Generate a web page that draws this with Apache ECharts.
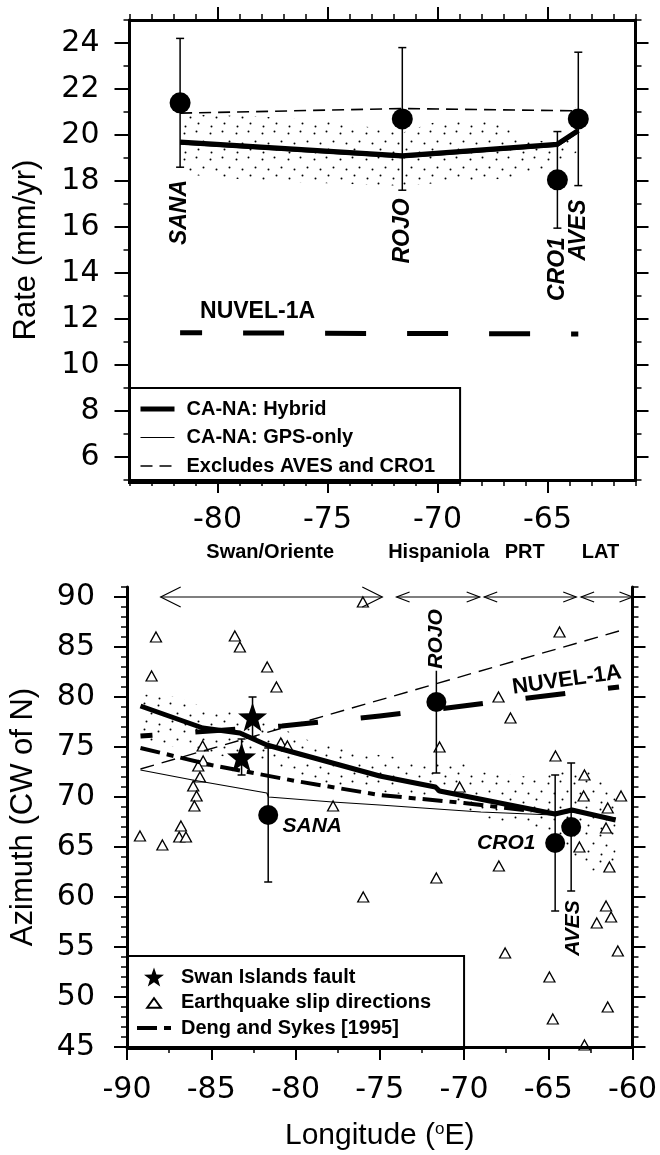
<!DOCTYPE html>
<html><head><meta charset="utf-8">
<script src="https://cdn.jsdelivr.net/npm/echarts@6/dist/echarts.min.js"></script>
<style>html,body{margin:0;padding:0;background:#fff}#c{width:660px;height:1155px}</style>
</head><body><div id="c"></div>
<script>
// ================= DATA =================
// ---- Top panel: rate (mm/yr) vs longitude ----
const rateStations = ['SANA','ROJO','CRO1','AVES'];
const rateLon = [-81.7,-71.6,-64.55,-63.6];
const rateVal = [21.4,20.7,18.05,20.7];
const rateErr = [2.8,3.1,2.1,2.9];
const hybridRateLon = [-81.7,-71.6,-64.55,-63.6];
const hybridRate = [19.7,19.1,19.6,20.2];
const gpsRateLon = [-81.7,-71.6,-64.55,-63.6];
const gpsRate = [19.6,19.0,19.5,20.1];
const exclRateLon = [-81.7,-71.6,-63.6];
const exclRate = [20.95,21.15,21.05];
const nuvelRateLon = [-81.7,-71.6,-63.6];
const nuvelRate = [11.4,11.37,11.35];
const bandRateLon  = [-81.7,-78,-75,-72,-71.6,-70,-67,-66.2,-64.55,-63.6];
const bandRateLow  = [18.3,18.0,17.9,17.8,17.8,17.9,18.1,18.2,18.6,19.3];
const bandRateHigh = [20.9,20.8,20.6,20.2,20.1,20.6,20.7,19.8,19.7,21.4];
const rateLabelLon = [-81.7,-71.6,-64.55,-63.6];
const rateLabelVal = [16.63,15.83,14.17,15.87];
const nuvelRateLabel = {text:'NUVEL-1A', lon:-78.18, val:12.32};

// ---- Bottom panel: azimuth (CW of N) vs longitude ----
const azStations = ['SANA','ROJO','CRO1','AVES'];
const azLon = [-81.62,-71.64,-64.59,-63.64];
const azVal = [68.2,79.5,65.4,67.0];
const azErr = [6.7,7.1,6.8,6.4];
const swanLon = [-82.55,-83.2];
const swanAz = [78.0,74.0];
const swanErr = [2.0,1.8];
const quakeLon = [-88.28,-88.54,-83.6,-83.3,-81.68,-81.13,-80.87,-80.48,-85.51,-85.48,-85.77,-85.67,-86.07,-85.87,-76.0,
  -86.0,-86.8,-86.9,-86.5,-89.23,-87.9,-77.77,-75.98,
  -64.33,-67.95,-67.24,-71.45,-64.57,-70.26,-62.85,-60.68,-62.9,
  -61.47,-61.57,-63.15,-61.37,-67.93,-71.64,-61.57,-61.27,-62.12,-60.87,-67.56,-64.93,-61.47,-64.73,-62.85];
const quakeAz = [86.0,82.1,86.1,85.0,83.0,81.0,75.4,75.1,75.1,73.6,73.1,72.0,71.1,70.1,89.5,
  69.1,67.1,66.0,66.0,66.1,65.2,69.1,60.0,
  86.5,80.0,77.9,75.0,74.1,71.0,72.2,70.1,70.1,
  68.9,66.9,65.0,63.0,63.1,61.9,59.1,58.0,57.4,54.6,54.4,52.0,49.0,47.8,45.2];
const hybridAzLon = [-89.2,-85.5,-83.3,-81.7,-75.0,-71.7,-71.45,-64.6,-63.6,-61.0];
const hybridAz    = [79.1,76.9,76.4,75.2,72.1,71.0,70.6,68.3,68.7,67.7];
const gpsAzLon = [-89.2,-86.1,-81.7,-81.6,-77.8,-75.0,-71.6,-69.0,-64.7,-63.6,-61.0];
const gpsAz    = [72.7,71.7,70.4,70.0,69.5,69.2,68.8,68.5,68.2,68.5,67.9];
const dengAzLon = [-89.2,-85.0,-80.0,-75.0,-70.0,-66.0];
const dengAz    = [74.9,73.2,71.6,70.2,69.4,68.6];
const exclAzLon = [-89.2,-60.8];
const exclAz    = [72.8,86.6];
const nuvelAzLon = [-89.2,-80.8,-75.0,-71.0,-66.2,-60.8];
const nuvelAz    = [76.1,77.1,78.1,78.9,79.9,81.0];
const bandAzLon  = [-89.2,-87,-85.5,-83,-81.7,-79,-75.5,-73,-70.5,-69,-66,-64.5,-62.5,-61];
const bandAzHigh = [80.3,80.0,79.0,78.5,77.5,75.5,74.3,73.8,73.7,72.5,72.0,72.5,72.5,71.0];
const bandAzLow  = [75.5,75.0,74.5,73.6,73.2,71.5,70.6,70.2,69.5,68.0,67.0,66.0,62.5,63.5];
const regionNames = ['Swan/Oriente','Hispaniola','PRT','LAT'];
const regionFrom = [-88.0,-74.0,-68.8,-63.05];
const regionTo   = [-74.85,-69.07,-63.34,-60.0];
const regionArrowAz = 90;
const regionLabelLon = [-81.5,-71.5,-66.4,-61.9];
const regionLabelAz = 94.5;
const azLabels = [
  {text:'SANA', lon:-80.77, val:67.1, rot:0, align:'left'},
  {text:'CRO1', lon:-65.76, val:65.4, rot:0, align:'right'},
  {text:'ROJO', lon:-71.64, val:85.8, rot:90, align:'center'},
  {text:'AVES', lon:-63.54, val:56.9, rot:90, align:'center'},
  {text:'NUVEL-1A', lon:-63.89, val:81.7, rot:8, align:'center'}
];
// ticks
const rateXTicks = [-80,-75,-70,-65];
const rateYTicks = [6,8,10,12,14,16,18,20,22,24];
const azYTicks = [45,50,55,60,65,70,75,80,85,90];

// ================= HELPERS =================
const zip = (a,b) => a.map((v,i)=>[v,b[i]]);
const FONT = 'Liberation Sans';
const TFONT = 'DejaVu Sans';
function stippleTile(){
  const c=document.createElement('canvas'); c.width=26; c.height=26;
  const g=c.getContext('2d'); g.fillStyle='#000';
  [[2,3],[14,1],[21,11],[8,13],[16,19],[3,22]].forEach(p=>{g.beginPath();g.arc(p[0]+.5,p[1]+.5,1.0,0,Math.PI*2);g.fill();});
  return c;
}
const stipple = {image: stippleTile(), repeat:'repeat'};
function bandSeries(xi, yi, lon, lo, hi){
  return {type:'custom', xAxisIndex:xi, yAxisIndex:yi, z:1, silent:true, data:[[lon[0],lo[0]]],
    renderItem:(p,api)=>{
      const pts=[]; lon.forEach((x,i)=>pts.push(api.coord([x,hi[i]])));
      for(let i=lon.length-1;i>=0;i--) pts.push(api.coord([lon[i],lo[i]]));
      return {type:'polygon', shape:{points:pts}, style:{fill:stipple, stroke:null}};
    }};
}
function errSeries(xi, yi, lon, val, err, cap, z){
  return {type:'custom', xAxisIndex:xi, yAxisIndex:yi, z:z||3, silent:true,
    data: lon.map((x,i)=>[x,val[i],err[i]]), encode:{x:0,y:1},
    renderItem:(p,api)=>{
      const x=api.value(0), y=api.value(1), e=api.value(2);
      const t=api.coord([x,y+e]), b=api.coord([x,y-e]);
      const st={stroke:'#000', lineWidth:1.5};
      return {type:'group', children:[
        {type:'line', shape:{x1:t[0],y1:t[1],x2:b[0],y2:b[1]}, style:st},
        {type:'line', shape:{x1:t[0]-cap,y1:t[1],x2:t[0]+cap,y2:t[1]}, style:st},
        {type:'line', shape:{x1:b[0]-cap,y1:b[1],x2:b[0]+cap,y2:b[1]}, style:st}]};
    }};
}
function textSeries(xi, yi, items, font, z){
  return {type:'custom', xAxisIndex:xi, yAxisIndex:yi, z:z||6, silent:true,
    data: items.map((it,i)=>[it.lon,it.val,i]), encode:{x:0,y:1},
    renderItem:(p,api)=>{
      const it=items[api.value(2)]; const c=api.coord([it.lon,it.val]);
      return {type:'text', x:c[0], y:c[1], rotation:(it.rot||0)*Math.PI/180,
        style:{text:it.text, x:0, y:0, fill:'#000', font:it.font||font, align:it.align||'center', verticalAlign:'middle',
          backgroundColor: it.bg||null, padding: it.bg?[0,2]:0}};
    }};
}
function lineSeries(name, xi, yi, lon, val, lw, type, off, z){
  return {name, type:'line', xAxisIndex:xi, yAxisIndex:yi, data:zip(lon,val), symbol:'none', showSymbol:false,
    z:z||2, silent:true, animation:false,
    lineStyle:{color:'#000', width:lw, type:type||'solid', dashOffset:off||0, cap:'butt', join:'round'}};
}
const axLine = {show:true, lineStyle:{color:'#000', width:3}};
const noLine = {show:false};
const tickSt = {color:'#000', width:2};
function xMajor(grid, pos, min, max, opts){
  return Object.assign({type:'value', gridIndex:grid, position:pos, min, max, z:10,
    axisLine:axLine, splitLine:{show:false},
    axisLabel:{show:false}}, opts);
}
function minorAxis(kind, grid, pos, min, max, interval, len){
  return {type:'value', gridIndex:grid, position:pos, min, max, interval, z:10,
    axisLine:noLine, splitLine:{show:false}, axisLabel:{show:false},
    axisTick:{show:true, length:len, lineStyle:{color:'#000', width:1.5}}};
}
const tickLbl = {color:'#000', fontSize:30, fontFamily:TFONT};

const starPath = 'path://M0,-10 L2.35,-3.24 L9.51,-3.09 L3.8,1.24 L5.88,8.09 L0,4 L-5.88,8.09 L-3.8,1.24 L-9.51,-3.09 L-2.35,-3.24 Z';
const triIcon = 'path://M-4,-4 M17,14 M0,10 L6.5,1 L13,10 Z';

// ================= OPTION =================
const option = {
  animation:false,
  backgroundColor:'#fff',
  grid:[
    {left:129.5, top:20, width:506, height:460},
    {left:127, top:587, width:506, height:460}
  ],
  xAxis:[
    xMajor(0,'bottom',-84,-61,{axisTick:{show:true,length:13,customValues:rateXTicks,lineStyle:tickSt},
      axisLabel:{show:true,customValues:rateXTicks,margin:25,...tickLbl}}),
    minorAxis('x',0,'bottom',-84,-61,1,6),
    xMajor(0,'top',-84,-61,{axisTick:{show:true,length:13,customValues:rateXTicks,lineStyle:tickSt}}),
    minorAxis('x',0,'top',-84,-61,1,6),
    xMajor(1,'bottom',-90,-60,{interval:5, axisTick:{show:true,length:13,lineStyle:tickSt},
      axisLabel:{show:true,margin:28,...tickLbl},
      name:'{a|Longitude (}{s|o}{a|E)}', nameLocation:'middle', nameGap:74,
      nameTextStyle:{rich:{a:{fontSize:30,fontFamily:FONT,color:'#000'}, s:{fontSize:17,fontFamily:FONT,color:'#000',verticalAlign:'top',padding:[0,0,10,0]}}}}),
    minorAxis('x',1,'bottom',-90,-60,2.5,6)
  ],
  yAxis:[
    {type:'value', gridIndex:0, position:'left', min:5, max:25, z:10, axisLine:axLine, splitLine:{show:false},
      axisTick:{show:true,length:15,customValues:rateYTicks,lineStyle:tickSt},
      axisLabel:{show:true,customValues:rateYTicks,margin:30,...tickLbl},
      name:'Rate (mm/yr)', nameLocation:'middle', nameGap:88,
      nameTextStyle:{fontSize:31,fontFamily:FONT,color:'#000'}},
    minorAxis('y',0,'left',5,25,1,6),
    {type:'value', gridIndex:0, position:'right', min:5, max:25, z:10, axisLine:axLine, splitLine:{show:false},
      axisTick:{show:true,length:13,customValues:rateYTicks,lineStyle:tickSt}, axisLabel:{show:false}},
    minorAxis('y',0,'right',5,25,1,6),
    {type:'value', gridIndex:1, position:'left', min:45, max:91, z:10, axisLine:axLine, splitLine:{show:false},
      axisTick:{show:true,length:13,customValues:azYTicks,lineStyle:tickSt},
      axisLabel:{show:true,customValues:azYTicks,margin:32,...tickLbl},
      name:'Azimuth (CW of N)', nameLocation:'middle', nameGap:88,
      nameTextStyle:{fontSize:31,fontFamily:FONT,color:'#000'}},
    minorAxis('y',1,'left',45,91,1,6),
    {type:'value', gridIndex:1, position:'right', min:45, max:91, z:10, axisLine:axLine, splitLine:{show:false},
      axisTick:{show:true,length:13,customValues:azYTicks,lineStyle:tickSt}, axisLabel:{show:false}},
    minorAxis('y',1,'right',45,91,1,6)
  ],
  legend:[
    {data:['CA-NA: Hybrid','CA-NA: GPS-only','Excludes AVES and CRO1'], orient:'vertical', left:129, top:388,
      itemWidth:34, itemHeight:14, itemGap:8.5, padding:[11,25,7,9], borderColor:'#000', borderWidth:2,
      backgroundColor:'#fff', z:8, selectedMode:false,
      itemStyle:{opacity:0}, lineStyle:{width:'inherit'},
      textStyle:{fontSize:20, fontWeight:'bold', fontFamily:FONT, color:'#000', padding:[0,0,0,7]}},
    {data:[{name:'Swan Islands fault'},{name:'Earthquake slip directions', icon:triIcon},{name:'Deng and Sykes [1995]', itemStyle:{opacity:0}}],
      orient:'vertical', left:127, top:956,
      itemWidth:34, itemHeight:19, itemGap:5, padding:[11,33,11,8], borderColor:'#000', borderWidth:2,
      backgroundColor:'#fff', z:8, selectedMode:false, lineStyle:{width:'inherit'}, symbolKeepAspect:true,
      textStyle:{fontSize:20, fontWeight:'bold', fontFamily:FONT, color:'#000', padding:[0,0,0,5]}}
  ],
  series:[
    // ---- top panel ----
    bandSeries(0,0,bandRateLon,bandRateLow,bandRateHigh),
    lineSeries('CA-NA: GPS-only',0,0,gpsRateLon,gpsRate,1.2),
    lineSeries('CA-NA: Hybrid',0,0,hybridRateLon,hybridRate,5),
    lineSeries('Excludes AVES and CRO1',0,0,exclRateLon,exclRate,1.6,[12,7]),
    lineSeries('NUVEL-1A rate',0,0,nuvelRateLon,nuvelRate,5,[41,41],19),
    errSeries(0,0,rateLon,rateVal,rateErr,4),
    {type:'scatter', xAxisIndex:0, yAxisIndex:0, data:zip(rateLon,rateVal), symbol:'circle', symbolSize:21, z:4, silent:true,
      itemStyle:{color:'#000', opacity:1}},
    textSeries(0,0, rateStations.map((s,i)=>({text:s, lon:rateLabelLon[i], val:rateLabelVal[i], rot:90})), 'italic bold 23px "Liberation Sans"'),
    textSeries(0,0,[Object.assign({},nuvelRateLabel)],'bold 23px "Liberation Sans"'),
    // ---- bottom panel ----
    bandSeries(4,4,bandAzLon,bandAzLow,bandAzHigh),
    {name:'Earthquake slip directions', type:'scatter', xAxisIndex:4, yAxisIndex:4, data:zip(quakeLon,quakeAz),
      symbol:'triangle', symbolSize:[11,10], z:2, silent:true,
      itemStyle:{color:'#fff', borderColor:'#000', borderWidth:1.3, opacity:1}},
    lineSeries('CA-NA: GPS-only',4,4,gpsAzLon,gpsAz,1.2,null,0,3),
    lineSeries('Deng and Sykes [1995]',4,4,dengAzLon,dengAz,4,[20,7,7,7],0,3),
    lineSeries('CA-NA: Hybrid',4,4,hybridAzLon,hybridAz,5,null,0,3),
    lineSeries('Excludes AVES and CRO1',4,4,exclAzLon,exclAz,1.4,[14,8],0,3),
    lineSeries('NUVEL-1A azimuth',4,4,nuvelAzLon,nuvelAz,5,[40,43],28,3),
    errSeries(4,4,swanLon,swanAz,swanErr,4,4),
    errSeries(4,4,azLon,azVal,azErr,4,4),
    {name:'Swan Islands fault', type:'scatter', xAxisIndex:4, yAxisIndex:4, data:zip(swanLon,swanAz),
      symbol:starPath, symbolSize:29, z:5, silent:true, itemStyle:{color:'#000', opacity:1}},
    {type:'scatter', xAxisIndex:4, yAxisIndex:4, data:zip(azLon,azVal), symbol:'circle', symbolSize:20, z:5, silent:true,
      itemStyle:{color:'#000', opacity:1}},
    textSeries(4,4, azLabels.map(l=>Object.assign({bg: l.text==='ROJO'?'#fff':null, font: l.text==='NUVEL-1A'?'bold 22px "Liberation Sans"':null}, l)), 'italic bold 21px "Liberation Sans"', 7),
    {type:'custom', xAxisIndex:4, yAxisIndex:4, z:6, silent:true,
      data: regionNames.map((n,i)=>[regionFrom[i],regionTo[i],regionArrowAz,i]), encode:{x:[0,1],y:2},
      renderItem:(p,api)=>{
        const i=api.value(3);
        const a=api.coord([api.value(0),api.value(2)]), b=api.coord([api.value(1),api.value(2)]);
        const L = i===0?20:13, H = i===0?10:5;
        const st={stroke:'#000', lineWidth:1.2, fill:null};
        return {type:'group', children:[
          {type:'line', shape:{x1:a[0],y1:a[1],x2:b[0],y2:b[1]}, style:st},
          {type:'polyline', shape:{points:[[a[0]+L,a[1]-H],[a[0],a[1]],[a[0]+L,a[1]+H]]}, style:st},
          {type:'polyline', shape:{points:[[b[0]-L,b[1]-H],[b[0],b[1]],[b[0]-L,b[1]+H]]}, style:st}
        ]};
      }},
    textSeries(4,4, regionNames.map((n,i)=>({text:n, lon:regionLabelLon[i], val:regionLabelAz})), 'bold 20px "Liberation Sans"')
  ]
};
const chart = echarts.init(document.getElementById('c'));
chart.setOption(option);
</script></body></html>
